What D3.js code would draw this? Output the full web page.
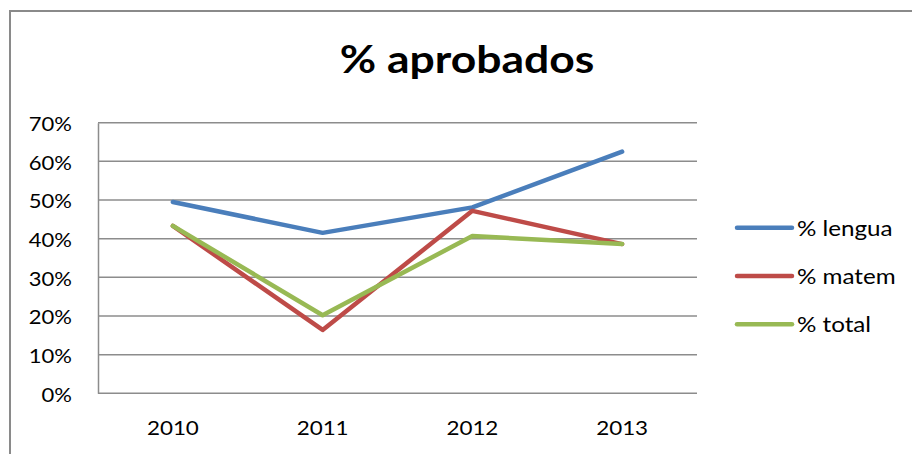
<!DOCTYPE html>
<html>
<head>
<meta charset="utf-8">
<script src="https://cdn.jsdelivr.net/npm/d3@7"></script>
<style>
  html, body { margin: 0; padding: 0; background: #fff; }
  svg { display: block; }
  text { font-family: Lato, "Noto Sans", sans-serif; fill: #000; }
</style>
</head>
<body>
<svg id="chart" width="912" height="454"></svg>
<script>
const years = ["2010", "2011", "2012", "2013"];
const lengua = [0.495, 0.415, 0.481, 0.625];
const matem  = [0.433, 0.164, 0.472, 0.386];
const total  = [0.433, 0.202, 0.407, 0.386];
const seriesNames = ["% lengua", "% matem", "% total"];
const seriesColors = ["#4A7EBB", "#BE4B48", "#98B954"];
const yTicks = [0, 0.1, 0.2, 0.3, 0.4, 0.5, 0.6, 0.7];
const titleText = "% aprobados";

const seriesData = [lengua, matem, total];
const stretch = (ax, s) => `translate(${ax},0) scale(${s},1) translate(${-ax},0)`;

const svg = d3.select("#chart");

// chart frame (top and left border visible)
svg.append("path")
  .attr("d", "M10,460 L10,11 L920,11")
  .attr("fill", "none")
  .attr("stroke", "#8a8a8a")
  .attr("stroke-width", 2);

const x = d3.scaleBand().domain(years).range([98, 697]).padding(0);
const y = d3.scaleLinear().domain([0, 0.7]).range([393.3, 122.7]);

// gridlines
svg.append("g")
  .selectAll("line")
  .data(yTicks)
  .join("line")
  .attr("x1", 98).attr("x2", 697)
  .attr("y1", d => y(d)).attr("y2", d => y(d))
  .attr("stroke", "#8c8c8c")
  .attr("stroke-width", 1.5);

// y axis
const yAxis = svg.append("g")
  .attr("transform", "translate(98,0)")
  .call(d3.axisLeft(y).tickValues(yTicks).tickFormat(d3.format(".0%")).tickSize(0).tickPadding(26));
yAxis.select(".domain").attr("stroke", "#8c8c8c").attr("stroke-width", 1.5);
yAxis.selectAll("text")
  .style("font-size", "19.5px")
  .attr("font-family", null)
  .attr("dy", "0.4em")
  .attr("transform", stretch(-26, 1.13));

// x axis
const xAxis = svg.append("g")
  .attr("transform", `translate(0,${y(0)})`)
  .call(d3.axisBottom(x).tickSize(0).tickPadding(28));
xAxis.select(".domain").remove();
xAxis.selectAll("text")
  .style("font-size", "19.5px")
  .attr("font-family", null)
  .attr("transform", stretch(0, 1.15));

// lines
const line = d3.line()
  .x((d, i) => x(years[i]) + x.bandwidth() / 2)
  .y(d => y(d));

svg.append("g")
  .selectAll("path")
  .data(seriesData)
  .join("path")
  .attr("d", d => line(d))
  .attr("fill", "none")
  .attr("stroke", (d, i) => seriesColors[i])
  .attr("stroke-width", 4.5)
  .attr("stroke-linecap", "round")
  .attr("stroke-linejoin", "round");

// title
svg.append("text")
  .attr("transform", "translate(467,73) scale(1.17,1)")
  .attr("text-anchor", "middle")
  .style("font-size", "38px")
  .style("font-weight", "bold")
  .text(titleText);

// legend
const legendY = d3.scalePoint().domain(seriesNames).range([227.7, 324.3]);
const lg = svg.append("g")
  .selectAll("g")
  .data(seriesNames)
  .join("g")
  .attr("transform", d => `translate(737,${legendY(d)})`);
lg.append("line")
  .attr("x1", 0).attr("x2", 55)
  .attr("stroke", (d, i) => seriesColors[i])
  .attr("stroke-width", 4.5)
  .attr("stroke-linecap", "round");
lg.append("text")
  .attr("x", 60)
  .attr("dy", "0.36em")
  .attr("transform", stretch(60, 1.1))
  .style("font-size", "22px")
  .text(d => d);
</script>
</body>
</html>
